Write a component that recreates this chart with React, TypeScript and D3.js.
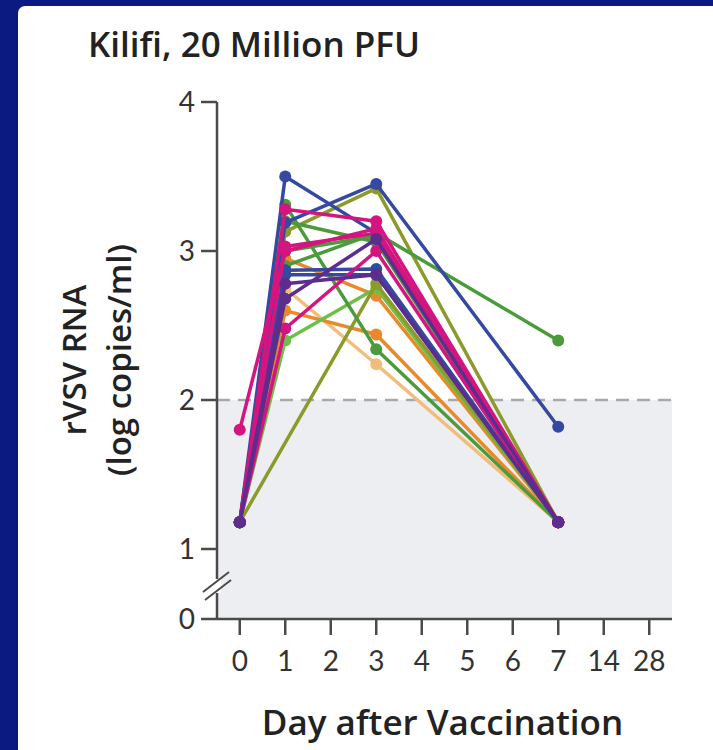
import * as d3 from "d3";

// x categories on the axis (non-linear after day 7)
const dayTicks = ["0", "1", "2", "3", "4", "5", "6", "7", "14", "28"];
const sampleDays = ["0", "1", "3", "7"];
const yTicks = [1, 2, 3, 4];

// one entry per vaccinee
const subjectColors = [
  "#f2bd7c", "#e8892b", "#e8892b", "#6cc04a", "#8c9a2c",
  "#8c9a2c", "#4b9a3c", "#4b9a3c", "#4b9a3c", "#4b9a3c",
  "#3549a0", "#3549a0", "#3549a0", "#3549a0", "#d4157f",
  "#d4157f", "#d4157f", "#d4157f", "#5c2d8e", "#5c2d8e",
];
const day0Values = [
  1.18, 1.18, 1.18, 1.18, 1.18, 1.18, 1.18, 1.18, 1.18, 1.18,
  1.18, 1.18, 1.18, 1.18, 1.18, 1.8, 1.18, 1.18, 1.18, 1.18,
];
const day1Values = [
  2.75, 2.6, 2.95, 2.4, null, 3.13, 3.31, 2.9, 3.2, 3.0,
  3.5, 3.19, 2.87, 2.84, 3.28, 3.0, 3.03, 2.48, 2.68, 2.78,
];
const day3Values = [
  2.24, 2.44, 2.7, 2.75, 2.78, 3.42, 2.34, 3.12, 3.06, 3.1,
  3.12, 3.45, 2.88, 2.84, 3.2, 3.15, 3.12, 3.0, 3.08, 2.84,
];
const day7Values = [
  1.18, 1.18, 1.18, 1.18, 1.18, 1.18, 1.18, 2.4, 1.18, 1.18,
  1.18, 1.82, 1.18, 1.18, 1.18, 1.18, 1.18, 1.18, 1.18, 1.18,
];
const limitOfDetection = 2;

const W = 713;
const H = 750;
const LABEL_FONT = "'Open Sans', Lato, sans-serif";
const TICK_FONT = "Lato, 'Open Sans', sans-serif";
const AXIS = "#4a4a4a";

export default function App() {
  const x = d3.scalePoint<string>().domain(dayTicks).range([217, 672]).padding(0.5);
  const y = d3.scaleLinear().domain([1, 4]).range([549, 102]);
  const zeroY = y(1) + 70; // broken axis: 0 sits below the break
  const left = x.range()[0];
  const right = x.range()[1];

  const subjects = subjectColors.map((color, i) => {
    const vals = [day0Values[i], day1Values[i], day3Values[i], day7Values[i]];
    const pts = sampleDays
      .map((d, j) => ({ day: d, v: vals[j] }))
      .filter((p) => p.v !== null) as { day: string; v: number }[];
    return { color, pts };
  });

  const line = d3
    .line<{ day: string; v: number }>()
    .x((d) => x(d.day)!)
    .y((d) => y(d.v));

  const breakY = (y(1) + zeroY) / 2 + 2;

  return (
    <svg
      width={W}
      height={H}
      style={{ position: "absolute", left: 0, top: 0, display: "block" }}
      fontFamily={TICK_FONT}
    >
      <rect x={0} y={0} width={W} height={H} fill="#0a1a80" />
      <rect x={18} y={6} width={W} height={H + 20} rx={7} fill="#ffffff" />

      <text x={88} y={57} fontSize={35} fontWeight={600} fill="#222" fontFamily={LABEL_FONT}>
        Kilifi, 20 Million PFU
      </text>

      {/* shaded region below the limit of detection */}
      <rect
        x={left}
        y={y(limitOfDetection)}
        width={right - left}
        height={zeroY - y(limitOfDetection)}
        fill="#edeef1"
      />
      <line
        x1={left}
        x2={right}
        y1={y(limitOfDetection)}
        y2={y(limitOfDetection)}
        stroke="#a9a9a9"
        strokeWidth={2.5}
        strokeDasharray="13 8"
      />

      {/* y axis */}
      <line x1={left} x2={left} y1={y(4)} y2={zeroY} stroke={AXIS} strokeWidth={2.5} />
      {yTicks.map((t) => (
        <g key={t}>
          <line x1={left - 16} x2={left} y1={y(t)} y2={y(t)} stroke={AXIS} strokeWidth={2.5} />
          <text x={left - 22} y={y(t)} dy="0.35em" textAnchor="end" fontSize={28} fill="#333">
            {t}
          </text>
        </g>
      ))}
      <line x1={left - 16} x2={left} y1={zeroY} y2={zeroY} stroke={AXIS} strokeWidth={2.5} />
      <text x={left - 22} y={zeroY} dy="0.35em" textAnchor="end" fontSize={28} fill="#333">
        0
      </text>
      {/* axis break marks */}
      <g transform={`translate(${left},${breakY})`}>
        <rect x={-4} y={-7} width={8} height={14} fill="#fff" />
        <line x1={-14} x2={12} y1={6} y2={-14} stroke={AXIS} strokeWidth={2} />
        <line x1={-12} x2={14} y1={14} y2={-6} stroke={AXIS} strokeWidth={2} />
      </g>

      {/* x axis */}
      <line x1={left} x2={right} y1={zeroY} y2={zeroY} stroke={AXIS} strokeWidth={2.5} />
      {dayTicks.map((d) => (
        <g key={d} transform={`translate(${x(d)},0)`}>
          <line y1={zeroY} y2={zeroY + 16} stroke={AXIS} strokeWidth={2.5} />
          <text y={zeroY + 52} textAnchor="middle" fontSize={28} fill="#333">
            {d}
          </text>
        </g>
      ))}

      <text
        x={(left + right) / 2 - 2}
        y={735}
        textAnchor="middle"
        fontSize={35}
        fontWeight={600}
        fill="#222"
        fontFamily={LABEL_FONT}
      >
        Day after Vaccination
      </text>

      <g transform={`translate(86,360) rotate(-90)`} fontFamily={LABEL_FONT} fontWeight={600} fill="#222">
        <text textAnchor="middle" fontSize={33}>
          rVSV RNA
        </text>
        <text y={45} textAnchor="middle" fontSize={33}>
          (log copies/ml)
        </text>
      </g>

      {/* subject trajectories */}
      {subjects.map((s, i) => (
        <g key={i}>
          <path d={line(s.pts)!} fill="none" stroke={s.color} strokeWidth={3.5} strokeLinejoin="round" />
          {s.pts.map((p) => (
            <circle key={p.day} cx={x(p.day)} cy={y(p.v)} r={6} fill={s.color} />
          ))}
        </g>
      ))}
    </svg>
  );
}
